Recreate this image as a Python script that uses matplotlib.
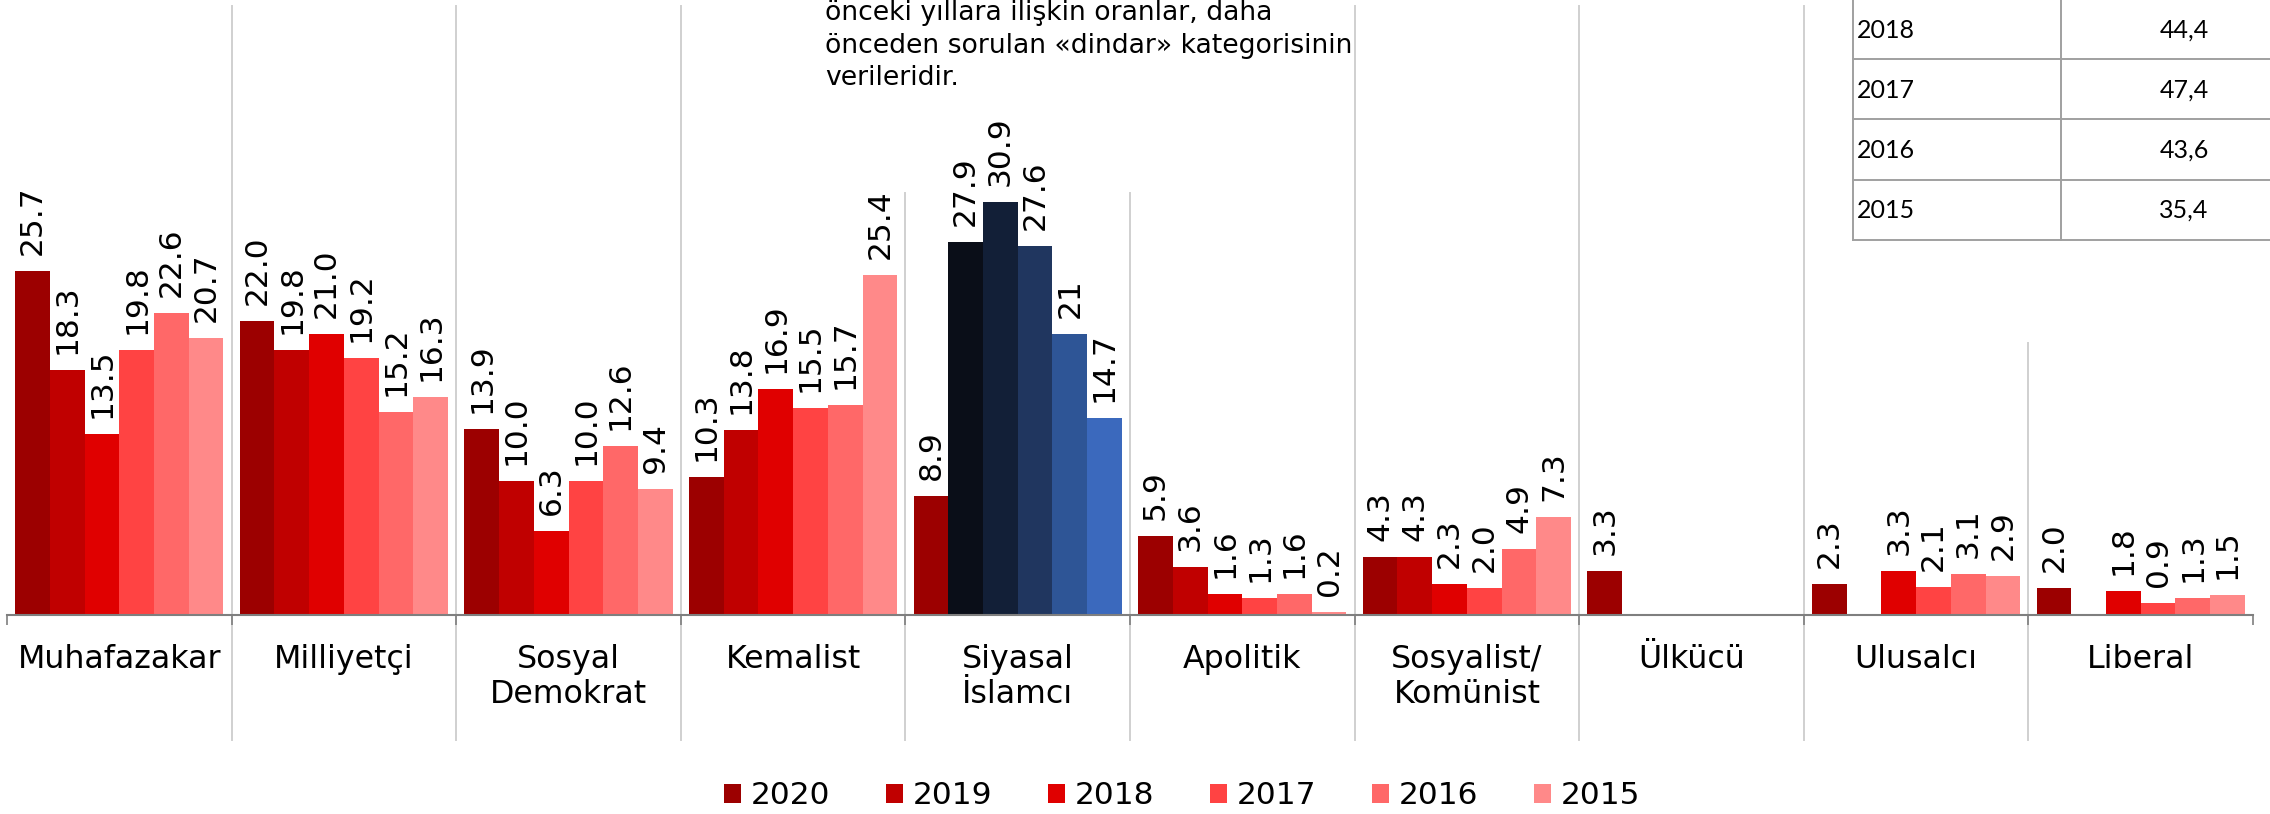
import matplotlib
matplotlib.use("Agg")
import matplotlib.pyplot as plt
from matplotlib.patches import Patch
from matplotlib.lines import Line2D
import matplotlib.transforms as mtransforms

# ---------------- data ----------------
categories = ["Muhafazakar", "Milliyetçi", "Sosyal\nDemokrat", "Kemalist", "Siyasal\nİslamcı",
              "Apolitik", "Sosyalist/\nKomünist", "Ülkücü", "Ulusalcı", "Liberal"]
years = ["2020", "2019", "2018", "2017", "2016", "2015"]
v2020 = [25.7, 22.0, 13.9, 10.3, 8.9, 5.9, 4.3, 3.3, 2.3, 2.0]
v2019 = [18.3, 19.8, 10.0, 13.8, 27.9, 3.6, 4.3, None, None, None]
v2018 = [13.5, 21.0, 6.3, 16.9, 30.9, 1.6, 2.3, None, 3.3, 1.8]
v2017 = [19.8, 19.2, 10.0, 15.5, 27.6, 1.3, 2.0, None, 2.1, 0.9]
v2016 = [22.6, 15.2, 12.6, 15.7, 21, 1.6, 4.9, None, 3.1, 1.3]
v2015 = [20.7, 16.3, 9.4, 25.4, 14.7, 0.2, 7.3, None, 2.9, 1.5]
series = [v2020, v2019, v2018, v2017, v2016, v2015]

table_years = ["2018", "2017", "2016", "2015"]
table_values = ["44,4", "47,4", "43,6", "35,4"]

note_lines = ["önceki yıllara ilişkin oranlar, daha",
              "önceden sorulan «dindar» kategorisinin",
              "verileridir."]

# ---------------- styles ----------------
red_colors = ["#9C0000", "#C00000", "#E00000", "#FF4343", "#FF6868", "#FF8989"]
blue_colors = [None, "#0A0E18", "#121F37", "#20365F", "#2E5596", "#3B69BD"]
highlight_idx = 4  # Siyasal İslamcı uses blue shades for earlier years

W, H = 2270, 814
def fx(px): return px / W
def fy(py): return 1 - py / H

plt.rcParams["font.family"] = ["DejaVu Sans"]
fig = plt.figure(figsize=(W / 100, H / 100), dpi=100)
fig.patch.set_facecolor("white")

ax_left, ax_right, ax_top, ax_bottom = 7, 2253, 6, 615
ax = fig.add_axes([fx(ax_left), fy(ax_bottom), (ax_right - ax_left) / W, (ax_bottom - ax_top) / H])
px_per_unit = 13.38
ax.set_xlim(-0.5, len(categories) - 0.5)
ax.set_ylim(0, (ax_bottom - ax_top) / px_per_unit)

bw = 0.1545
n = len(years)
for j, vals in enumerate(series):
    for i, v in enumerate(vals):
        if v is None:
            continue
        x = i + (j - (n - 1) / 2) * bw
        color = red_colors[j]
        if i == highlight_idx and blue_colors[j] is not None:
            color = blue_colors[j]
        ax.bar(x, v, width=bw, color=color, linewidth=0, zorder=2)
        label = str(v) if isinstance(v, int) else f"{v:.1f}"
        ax.annotate(label, (x, v), xytext=(0, 11.5), textcoords="offset points",
                    rotation=90, ha="center", va="bottom", fontsize=22.5, color="black",
                    zorder=3)

# axes styling
for s in ["left", "right", "top"]:
    ax.spines[s].set_visible(False)
ax.spines["bottom"].set_color("#7F7F7F")
ax.spines["bottom"].set_linewidth(1.5)
ax.spines["bottom"].set_zorder(4)
ax.set_yticks([])
ax.set_xticks(range(len(categories)))
ax.set_xticklabels(categories, fontsize=22.8, linespacing=1.15)
ax.tick_params(axis="x", which="major", length=0, pad=21)
ax.set_xticks([i - 0.5 for i in range(len(categories) + 1)], minor=True)
ax.tick_params(axis="x", which="minor", length=7.5, width=1.2, color="#7F7F7F", direction="out")

# vertical separators (partly hidden behind note box and table)
trans = mtransforms.blended_transform_factory(ax.transData, fig.transFigure)
sep_tops = {3.5: 193, 4.5: 193, 8.5: 343}
for k in range(len(categories) - 1):
    b = k + 0.5
    top = sep_tops.get(b, ax_top)
    ax.add_line(Line2D([b, b], [fy(740), fy(top)], transform=trans, color="#D0D0D0",
                       lw=1.4, clip_on=False, zorder=0.5))

# note text
baselines = [20, 53, 85]
for line, bl in zip(note_lines, baselines):
    fig.text(fx(825), fy(bl), line, ha="left", va="baseline", fontsize=19.2, color="black")

# table at top right
tcol = "#A0A0A0"
for xv in [1853, 2061]:
    fig.add_artist(Line2D([fx(xv), fx(xv)], [fy(0), fy(240)], transform=fig.transFigure,
                          color=tcol, lw=1.4))
for yv in [59, 119, 180, 240]:
    fig.add_artist(Line2D([fx(1853), fx(W)], [fy(yv), fy(yv)], transform=fig.transFigure,
                          color=tcol, lw=1.4))
row_centers = [30, 90, 150, 210]
for yr, val, yc in zip(table_years, table_values, row_centers):
    fig.text(fx(1857), fy(yc), yr, ha="left", va="center", fontsize=18, family="Lato", color="black")
    fig.text(fx(2184), fy(yc), val, ha="center", va="center", fontsize=18, family="Lato", color="black")

# legend
handles = [Patch(facecolor=c, edgecolor="none") for c in red_colors]
fig.legend(handles, years, loc="center", bbox_to_anchor=(1182 / W, fy(796)), ncol=6,
           frameon=False, fontsize=22.5, handlelength=0.55, handleheight=0.55,
           handletextpad=0.29, columnspacing=1.8, borderpad=0, borderaxespad=0)

fig.savefig("out.png", dpi=100, facecolor="white")
